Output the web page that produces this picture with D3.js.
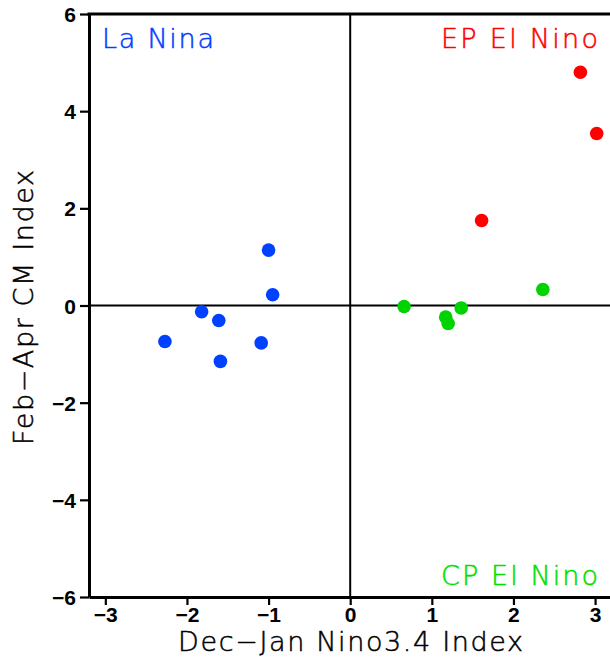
<!DOCTYPE html>
<html>
<head>
<meta charset="utf-8">
<script src="https://cdn.jsdelivr.net/npm/d3@7"></script>
<style>
  html, body { margin: 0; padding: 0; background: #fff; }
  svg { display: block; }
  .tick text { font-family: "Liberation Sans", Arial, sans-serif; font-weight: bold; font-size: 21px; fill: #000; }
  .lbl { font-family: "DejaVu Sans", "Liberation Sans", sans-serif; font-weight: 200; stroke-width: 0.5px; }
</style>
</head>
<body>
<svg id="chart" width="610" height="661"></svg>
<script>
// Dec-Jan Nino3.4 index vs Feb-Apr CM index, grouped by ENSO type
const laNinaX = [-1.00, -0.95, -1.82, -1.61, -2.27, -1.09, -1.59];
const laNinaY = [ 1.14,  0.22, -0.13, -0.31, -0.74, -0.77, -1.15];

const cpElNinoX = [0.66, 1.17, 1.20, 1.36, 2.36];
const cpElNinoY = [-0.02, -0.24, -0.37, -0.05, 0.33];

const epElNinoX = [1.61, 2.82, 3.02];
const epElNinoY = [1.75, 4.80, 3.54];

const xTicks = [-3, -2, -1, 0, 1, 2, 3];
const yTicks = [-6, -4, -2, 0, 2, 4, 6];

const groups = [
  { name: "La Nina",    xs: laNinaX,   ys: laNinaY,   color: "#0040ff", text: "#0040ff" },
  { name: "CP El Nino", xs: cpElNinoX, ys: cpElNinoY, color: "#00d400", text: "#00e000" },
  { name: "EP El Nino", xs: epElNinoX, ys: epElNinoY, color: "#ff0000", text: "#ff0000" }
];

const svg = d3.select("#chart");
const m = { left: 89, top: 14 };
const W = 522.4, H = 583;

const x = d3.scaleLinear().domain([-3.2, 3.2]).range([0, W]);
const y = d3.scaleLinear().domain([-6, 6]).range([H, 0]);

const g = svg.append("g").attr("transform", `translate(${m.left},${m.top})`);

// zero reference lines
g.append("line")
  .attr("x1", 0).attr("x2", W).attr("y1", y(0)).attr("y2", y(0))
  .attr("stroke", "#000").attr("stroke-width", 2);
g.append("line")
  .attr("x1", x(0)).attr("x2", x(0)).attr("y1", 0).attr("y2", H)
  .attr("stroke", "#000").attr("stroke-width", 2);

// points
groups.forEach(grp => {
  g.append("g").selectAll("circle")
    .data(grp.xs.map((v, i) => [v, grp.ys[i]]))
    .join("circle")
    .attr("cx", d => x(d[0]))
    .attr("cy", d => y(d[1]))
    .attr("r", 6.8)
    .attr("fill", grp.color);
});

// axes
const fmt = d => d3.format("d")(d).replace("-", "\u2212");

const xAxis = g.append("g").attr("transform", `translate(0,${H})`)
  .call(d3.axisBottom(x).tickValues(xTicks).tickFormat(fmt).tickSize(8).tickSizeOuter(0).tickPadding(2));
const yAxis = g.append("g")
  .call(d3.axisLeft(y).tickValues(yTicks).tickFormat(fmt).tickSize(9).tickSizeOuter(0).tickPadding(4));

[xAxis, yAxis].forEach(a => {
  a.select(".domain").attr("stroke", "#000").attr("stroke-width", 3);
  a.selectAll(".tick line").attr("stroke", "#000").attr("stroke-width", 2.2);
});
yAxis.selectAll(".tick text").attr("dy", "0.36em");

// top frame edge
g.append("line").attr("x1", -1.5).attr("x2", W).attr("y1", 0).attr("y2", 0)
  .attr("stroke", "#000").attr("stroke-width", 3);

// quadrant labels
const label = (txt, x0, y0, len, color) =>
  svg.append("text").attr("class", "lbl")
    .attr("x", x0).attr("y", y0)
    .attr("font-size", 27).attr("fill", color).attr("stroke", color)
    .attr("textLength", len).attr("lengthAdjust", "spacing")
    .text(txt);

label("La Nina", 102, 48, 112, groups[0].text);
label("EP El Nino", 441, 48, 157, groups[2].text);
label("CP El Nino", 441, 585, 157, groups[1].text);

// axis titles
label("Dec\u2212Jan Nino3.4 Index", 178, 651, 345, "#000");
svg.append("text").attr("class", "lbl")
  .attr("transform", "translate(33,445) rotate(-90)")
  .attr("x", 0).attr("y", 0)
  .attr("font-size", 27).attr("fill", "#000").attr("stroke", "#000")
  .attr("textLength", 275).attr("lengthAdjust", "spacing")
  .text("Feb\u2212Apr CM Index");
</script>
</body>
</html>
